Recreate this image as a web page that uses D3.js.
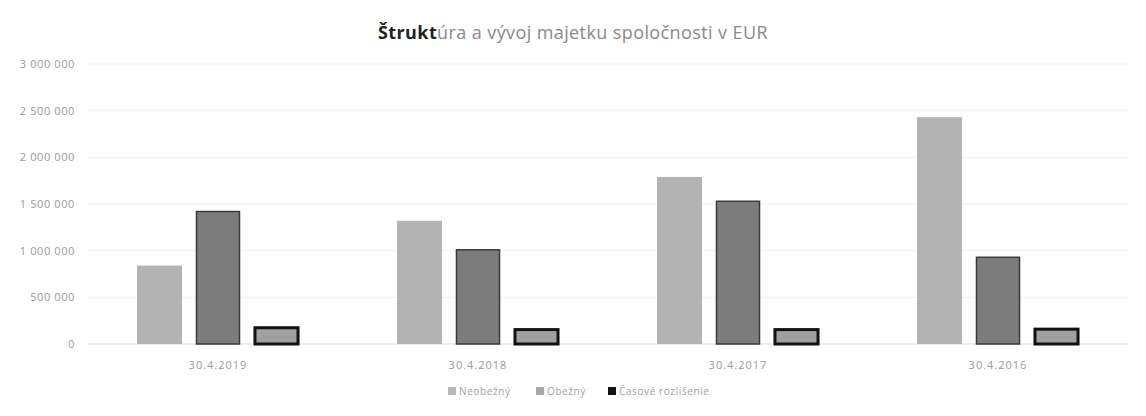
<!DOCTYPE html>
<html><head><meta charset="utf-8">
<script src="https://cdn.jsdelivr.net/npm/d3@7"></script>
<style>body{margin:0;background:#fff;font-family:"Open Sans","DejaVu Sans",sans-serif}</style>
</head><body><svg id="c" width="1146" height="416"></svg>
<script>
const categories = ["30.4.2019", "30.4.2018", "30.4.2017", "30.4.2016"];
const seriesNames = ["Neobežný", "Obežný", "Časové rozlíšenie"];
const neobezny = [840000, 1320000, 1790000, 2430000];
const obezny = [1430000, 1020000, 1540000, 940000];
const casove = [185000, 165000, 165000, 170000];
const yTicks = [0, 500000, 1000000, 1500000, 2000000, 2500000, 3000000];
const titleText = "Štruktúra a vývoj majetku spoločnosti v EUR";

const series = [neobezny, obezny, casove];
const fills = ["#b3b3b3", "#7c7c7c", "#a0a0a0"];
const strokes = ["none", "#3a3a3a", "#111"];
const legendColors = ["#b8b8b8", "#a8a8a8", "#111"];

const svg = d3.select("#c");
const y = d3.scaleLinear().domain([0, 3000000]).range([344, 64]);
const x0 = d3.scaleBand().domain(categories).range([88, 1128]).paddingInner(0.325).paddingOuter(0.1625);
const x1 = d3.scaleBand().domain(seriesNames).range([0, x0.bandwidth()]).paddingInner(0.23).paddingOuter(0.115);

const fmt = v => d3.format(",")(v).replace(/,/g, " ");

// gridlines
svg.append("g").selectAll("line").data(yTicks).join("line")
  .attr("x1", 88).attr("x2", 1128)
  .attr("y1", d => y(d)).attr("y2", d => y(d))
  .attr("stroke", d => d === 0 ? "#dcdcdc" : "#f0f0f0").attr("stroke-width", 1);

// y axis labels
svg.append("g").selectAll("text").data(yTicks).join("text")
  .attr("x", 75).attr("y", d => y(d)).attr("dy", "0.35em")
  .attr("text-anchor", "end").attr("font-size", 11).attr("letter-spacing", 0.6).attr("fill", "#9a9a9a")
  .text(fmt);

// bars
const g = svg.append("g").selectAll("g").data(categories).join("g")
  .attr("transform", d => `translate(${x0(d)},0)`);
g.selectAll("rect").data((d, i) => series.map((s, k) => ({k, v: s[i]}))).join("rect")
  .attr("x", d => x1(seriesNames[d.k]) + (d.k === 0 ? 0 : 1))
  .attr("width", d => x1.bandwidth() - (d.k === 0 ? 0 : 2))
  .attr("y", d => y(d.v) + (d.k === 0 ? 0 : 1))
  .attr("height", d => y(0) - y(d.v) - (d.k === 0 ? 0 : 1))
  .attr("fill", d => fills[d.k])
  .attr("stroke", d => strokes[d.k])
  .attr("stroke-width", d => d.k === 2 ? 3 : 1.5);

// x labels
svg.append("g").selectAll("text").data(categories).join("text")
  .attr("x", d => x0(d) + x0.bandwidth() / 2).attr("y", 369)
  .attr("text-anchor", "middle").attr("font-size", 11).attr("letter-spacing", 1).attr("fill", "#9a9a9a")
  .text(d => d);

// title
const t = svg.append("text").attr("x", 573).attr("y", 39).attr("text-anchor", "middle")
  .attr("font-size", 18).attr("letter-spacing", 0.4).attr("fill", "#8a8a8a");
t.append("tspan").attr("fill", "#222").attr("font-weight", "bold").text(titleText.slice(0, 6));
t.append("tspan").text(titleText.slice(6));

// legend
const legendX = [448, 536, 608];
const lg = svg.append("g").selectAll("g").data(seriesNames).join("g")
  .attr("transform", (d, i) => `translate(${legendX[i]},395)`);
lg.append("rect").attr("x", 0).attr("y", -8).attr("width", 8).attr("height", 8)
  .attr("fill", (d, i) => legendColors[i]);
lg.append("text").attr("x", 11).attr("y", 0).attr("font-size", 10).attr("letter-spacing", 0.6).attr("fill", "#a0a0a0")
  .text(d => d);
</script></body></html>
